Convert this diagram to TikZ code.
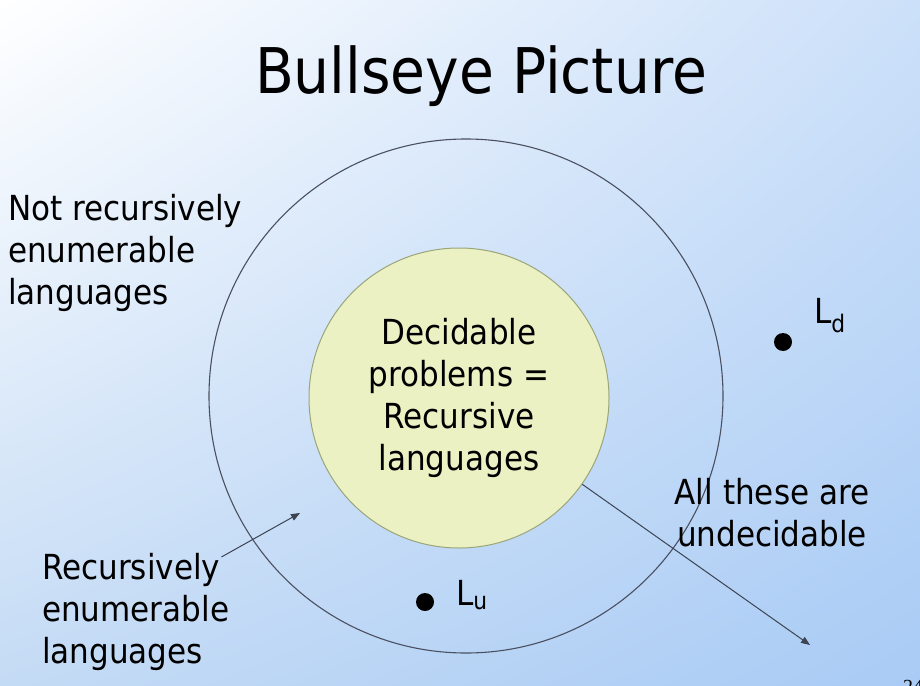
\documentclass[tikz,border=0pt]{standalone}
\usepackage{fontspec}
\setmainfont{DejaVu Sans Condensed}
\newfontfamily\numfont{Liberation Serif}
\usetikzlibrary{arrows.meta, positioning, shadings}
\definecolor{bgtl}{HTML}{FFFFFF}
\definecolor{bgtr}{HTML}{CCE0F9}
\definecolor{bgbl}{HTML}{C4DBF5}
\definecolor{bgbr}{HTML}{A9CBF5}
\definecolor{corefill}{HTML}{EBF1C3}
\definecolor{coreline}{HTML}{9AA57A}
\definecolor{ringline}{HTML}{4A5060}
\definecolor{arrline}{HTML}{3C4452}
\newcommand{\body}{\fontsize{34.5}{42}\selectfont}
\newcommand{\headline}{\fontsize{63}{75}\selectfont}

\begin{document}
\begin{tikzpicture}[
  x=1pt, y=-1pt,
  ring/.style={circle, draw=ringline, line width=1.1pt, inner sep=0pt, minimum size=514pt},
  core/.style={circle, draw=coreline, fill=corefill, line width=1pt,
               minimum size=300pt, inner sep=0pt, align=center, font=\body},
  lbl/.style={inner sep=0pt, align=left, font=\body},
  dot/.style={circle, fill=black, inner sep=0pt, minimum size=18pt},
  arr/.style={-{Triangle[length=9pt, width=7pt]}, line width=1pt, draw=arrline}
]
  % background
  \shade[upper left=bgtl, upper right=bgtr, lower left=bgbl, lower right=bgbr]
    (0,0) rectangle (920,685);
  \useasboundingbox (0,0) rectangle (920,685);

  \node[font=\headline, anchor=base, inner sep=0pt] (title) at (481,93) {Bullseye Picture};

  % the two rings
  \node[ring] (outer) at (466,396) {};
  \node[core] (inner) at (459,398) {Decidable\\problems =\\Recursive\\languages};

  \node[lbl, anchor=north west] (nonre) at (8,194) {Not recursively\\enumerable\\languages};
  \node[lbl, anchor=north west] (re) at (42,553) {Recursively\\enumerable\\languages};
  \node[lbl, align=center, anchor=north] (undec) at (772,478) {All these are\\undecidable};

  % sample languages
  \node[dot] (ld) at (783,342) {};
  \node[lbl, anchor=base west] (ldname) at (814,323) {L\textsubscript{d}};
  \node[dot] (lu) at (425,602) {};
  \node[lbl, anchor=base west] (luname) at (456,605) {L\textsubscript{u}};

  \coordinate (retip) at (300,513);
  \coordinate (undtip) at (810,645);
  \draw[arr] ([shift={(-8,4)}]re.north east) -- (retip);
  \draw[arr] (inner.-35) -- (undtip);

  \node[font=\numfont\fontsize{20}{24}\selectfont, anchor=base west, inner sep=0pt] (pgno) at (903,693) {24};
\end{tikzpicture}
\end{document}
